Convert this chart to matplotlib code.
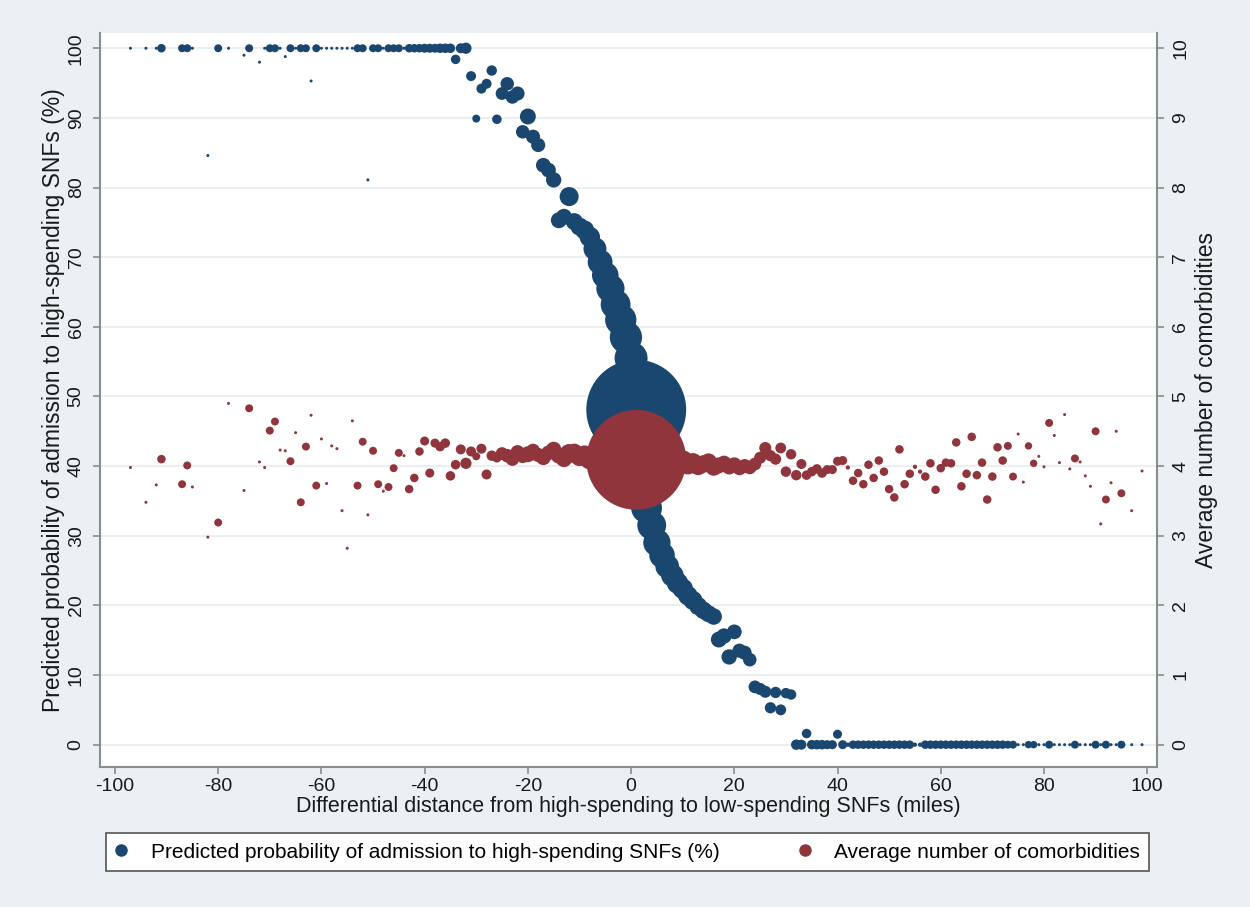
import numpy as np
import matplotlib.pyplot as plt
from matplotlib.lines import Line2D

plt.rcParams["font.family"] = ["Liberation Sans", "DejaVu Sans"]
plt.rcParams["axes.unicode_minus"] = False

BLUE = "#1a476f"
RED = "#90353b"
BG = "#eaf0f3"
AXIS_GREY = "#8c8c8c"

# --- binned data: distance bin (miles), patients in bin, predicted prob (%), avg comorbidities
# far left tail
dist_left = [-97, -94, -92, -91, -87, -86, -85, -82, -80, -78, -75, -74, -72, -71, -70,
             -69, -68, -67, -66, -65, -64, -63, -62, -61, -60, -59, -58, -57, -56, -55,
             -54, -53, -52, -51, -50, -49, -48, -47, -46, -45, -44, -43, -42, -41, -40,
             -39, -38, -37, -36, -35, -34, -33, -32]
n_left = [1, 1, 1, 8, 7, 7, 1, 1, 7, 1, 1, 7, 1, 1, 7,
          7, 1, 1, 7, 1, 7, 7, 1, 7, 1, 1, 1, 1, 1, 1,
          1, 7, 7, 1, 7, 7, 1, 7, 7, 7, 1, 8, 8, 8, 9,
          9, 9, 10, 10, 10, 10, 11, 14]
prob_left = [100, 100, 100, 100, 100, 100, 100, 84.6, 100, 100, 99.0, 100, 98.0, 100, 100,
             100, 100, 98.8, 100, 100, 100, 100, 95.3, 100, 100, 100, 100, 100, 100, 100,
             100, 100, 100, 81.1, 100, 100, 100, 100, 100, 100, 100, 100, 100, 100, 100,
             100, 100, 100, 100, 100, 98.4, 100, 100]
comorb_left = [3.98, 3.48, 3.73, 4.10, 3.74, 4.01, 3.70, 2.98, 3.19, 4.90, 3.65, 4.83, 4.06, 3.98, 4.51,
               4.64, 4.23, 4.22, 4.07, 4.48, 3.48, 4.28, 4.73, 3.72, 4.39, 3.75, 4.29, 4.25, 3.36, 2.82,
               4.65, 3.72, 4.35, 3.30, 4.22, 3.74, 3.64, 3.70, 3.97, 4.19, 4.15, 3.67, 3.83, 4.21, 4.36,
               3.90, 4.33, 4.28, 4.33, 3.86, 4.02, 4.24, 4.04]

# centre, where most patients are
dist_mid = [-31, -30, -29, -28, -27, -26, -25, -24, -23, -22, -21, -20, -19, -18, -17,
            -16, -15, -14, -13, -12, -11, -10, -9, -8, -7, -6, -5, -4, -3, -2,
            -1, 0, 1, 2, 3, 4, 5, 6, 7, 8, 9, 10, 11, 12, 13,
            14, 15, 16, 17, 18, 19, 20, 21, 22, 23, 24, 25, 26, 27, 28,
            29, 30, 31]
n_mid = [11, 7, 11, 11, 12, 10, 18, 20, 20, 22, 20, 28, 22, 22, 24,
         24, 26, 28, 28, 40, 32, 36, 40, 46, 58, 68, 78, 88, 98, 108,
         115, 120, 1100, 120, 105, 92, 82, 72, 62, 56, 50, 46, 42, 40, 36,
         34, 32, 30, 28, 26, 26, 24, 22, 22, 20, 18, 16, 16, 14, 14,
         13, 12, 12]
prob_mid = [96.0, 89.9, 94.2, 94.9, 96.8, 89.8, 93.5, 94.9, 93.0, 93.5, 88.0, 90.2, 87.3, 86.1, 83.2,
            82.5, 81.1, 75.3, 75.8, 78.7, 75.1, 74.4, 73.9, 72.9, 71.2, 69.3, 67.4, 65.5, 63.2, 61.0,
            58.5, 55.5, 48.1, 40.5, 34.0, 31.5, 29.0, 27.2, 25.6, 24.3, 23.2, 22.4, 21.4, 20.7, 19.9,
            19.3, 18.8, 18.4, 15.1, 15.6, 12.6, 16.2, 13.5, 13.2, 12.2, 8.3, 8.0, 7.6, 5.3, 7.5,
            5.0, 7.4, 7.2]
comorb_mid = [4.21, 4.14, 4.25, 3.88, 4.15, 4.12, 4.18, 4.15, 4.10, 4.20, 4.14, 4.17, 4.22, 4.16, 4.12,
              4.19, 4.24, 4.15, 4.10, 4.18, 4.20, 4.13, 4.16, 4.10, 4.14, 4.12, 4.15, 4.11, 4.13, 4.10,
              4.12, 4.10, 4.09, 4.08, 4.06, 4.05, 4.10, 4.07, 4.03, 4.06, 4.04, 4.08, 4.02, 4.05, 4.00,
              4.03, 4.06, 3.98, 4.01, 4.04, 3.99, 4.02, 3.97, 4.00, 3.98, 4.03, 4.12, 4.26, 4.15, 4.10,
              4.26, 3.92, 4.17]

# far right tail
dist_right = [32, 33, 34, 35, 36, 37, 38, 39, 40, 41, 42, 43, 44, 45, 46,
              47, 48, 49, 50, 51, 52, 53, 54, 55, 56, 57, 58, 59, 60, 61,
              62, 63, 64, 65, 66, 67, 68, 69, 70, 71, 72, 73, 74, 75, 76,
              77, 78, 79, 80, 81, 82, 83, 84, 85, 86, 87, 88, 89, 90, 91,
              92, 93, 94, 95, 97, 99]
n_right = [12, 11, 10, 10, 10, 10, 9, 9, 9, 9, 2, 8, 8, 8, 8,
           8, 8, 8, 8, 8, 8, 8, 8, 2, 2, 8, 8, 8, 8, 8,
           8, 8, 8, 8, 8, 8, 8, 8, 8, 8, 8, 7, 7, 1, 1,
           6, 6, 1, 1, 7, 1, 1, 1, 1, 7, 1, 1, 1, 7, 1,
           7, 1, 1, 7, 1, 1]
prob_right = [0, 0, 1.6, 0, 0, 0, 0, 0, 1.5, 0, 0, 0, 0, 0, 0,
              0, 0, 0, 0, 0, 0, 0, 0, 0, 0, 0, 0, 0, 0, 0,
              0, 0, 0, 0, 0, 0, 0, 0, 0, 0, 0, 0, 0, 0, 0,
              0, 0, 0, 0, 0, 0, 0, 0, 0, 0, 0, 0, 0, 0, 0,
              0, 0, 0, 0, 0, 0]
comorb_right = [3.87, 4.03, 3.87, 3.92, 3.96, 3.90, 3.95, 3.95, 4.07, 4.08, 3.98, 3.79, 3.90, 3.74, 4.02,
                3.83, 4.08, 3.92, 3.67, 3.55, 4.24, 3.74, 3.89, 3.99, 3.92, 3.85, 4.04, 3.66, 3.97, 4.05,
                4.04, 4.34, 3.71, 3.89, 4.42, 3.87, 4.05, 3.52, 3.85, 4.27, 4.08, 4.29, 3.85, 4.46, 3.77,
                4.29, 4.04, 4.14, 3.99, 4.62, 4.44, 4.05, 4.74, 3.96, 4.11, 4.06, 3.86, 3.71, 4.50, 3.17,
                3.52, 3.76, 4.50, 3.61, 3.36, 3.93]

dist = np.array(dist_left + dist_mid + dist_right, dtype=float)
n_obs = np.array(n_left + n_mid + n_right, dtype=float)
prob_high = np.array(prob_left + prob_mid + prob_right, dtype=float)
comorb = np.array(comorb_left + comorb_mid + comorb_right, dtype=float)
assert len(dist) == len(n_obs) == len(prob_high) == len(comorb)

x_ticks = [-100, -80, -60, -40, -20, 0, 20, 40, 60, 80, 100]
y_ticks = [0, 10, 20, 30, 40, 50, 60, 70, 80, 90, 100]
y2_ticks = [0, 1, 2, 3, 4, 5, 6, 7, 8, 9, 10]

label_blue = "Predicted probability of admission to high-spending SNFs (%)"
label_red = "Average number of comorbidities"

# marker area proportional to bin size (like Stata aweights)
size_scale = 4.7

fig = plt.figure(figsize=(12.5, 9.07), dpi=100, facecolor=BG)
ax = fig.add_axes([0.08, 0.1544, 0.8456, 0.8093])
ax2 = ax.twinx()

ax.set_facecolor("white")
ax.set_axisbelow(True)
ax2.patch.set_visible(False)

ax.scatter(dist, prob_high, s=n_obs * size_scale, color=BLUE, linewidths=0, zorder=3)
ax2.scatter(dist, comorb, s=n_obs * size_scale, color=RED, linewidths=0, zorder=3)

ax.set_xlim(-102.9, 101.9)
ax.set_ylim(-3.2, 102.2)
ax2.set_ylim(-0.32, 10.22)

ax.set_xticks(x_ticks)
ax.set_yticks(y_ticks)
ax2.set_yticks(y2_ticks)
ax.grid(axis="y", color="#e6ecef", linewidth=1.2)

for a in (ax, ax2):
    for side in a.spines:
        a.spines[side].set_visible(False)
    a.tick_params(colors=AXIS_GREY, labelcolor="#1a1a1a", length=5, width=1.2,
                  labelsize=14)
ax.spines["left"].set_visible(True)
ax.spines["bottom"].set_visible(True)
ax2.spines["right"].set_visible(True)
for sp in (ax.spines["left"], ax.spines["bottom"], ax2.spines["right"]):
    sp.set_color(AXIS_GREY)
    sp.set_linewidth(1.5)

ax.tick_params(axis="y", labelrotation=90, pad=6)
ax2.tick_params(axis="y", labelrotation=90, pad=6)
for lab in ax.get_yticklabels() + ax2.get_yticklabels():
    lab.set_va("center")
ax.tick_params(axis="x", pad=3)

ax.set_xlabel("Differential distance from high-spending to low-spending SNFs (miles)",
              fontsize=15.5, color="#1a1a1a", labelpad=1)
ax.set_ylabel(label_blue, fontsize=16.5, color="#1a1a1a", labelpad=2)
ax2.set_ylabel(label_red, fontsize=16.5, color="#1a1a1a", labelpad=4)

handles = [Line2D([], [], ls="", marker="o", markersize=8, color=BLUE),
           Line2D([], [], ls="", marker="o", markersize=8, color=RED)]
leg = fig.legend(handles, [label_blue, label_red], loc="center",
                 bbox_to_anchor=(0.502, 0.0606), ncol=2, frameon=True,
                 fancybox=False, edgecolor="#555555", facecolor="white",
                 fontsize=15, handlelength=0.6, handletextpad=1.1,
                 columnspacing=3.8, borderpad=0.45, framealpha=1)
leg.get_frame().set_linewidth(1.2)

fig.savefig("out.png", dpi=100, facecolor=BG)
